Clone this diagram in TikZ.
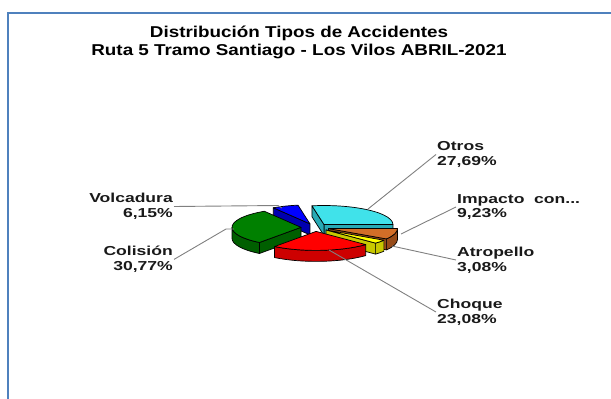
\documentclass[tikz,border=0pt]{standalone}
\usepackage{fontspec}
\newfontfamily\titlefont[FakeStretch=1.2]{Liberation Sans}
\newfontfamily\chartfont[FakeStretch=1.35]{Liberation Sans}
\usepackage{tikz}
\usetikzlibrary{positioning, calc}

\definecolor{framecol}{RGB}{79,129,189}
\definecolor{leadcol}{RGB}{128,128,128}
\definecolor{cyanTop}{RGB}{64,226,234}
\definecolor{cyanSide}{RGB}{40,170,180}
\definecolor{brownTop}{RGB}{210,110,40}
\definecolor{brownSide}{RGB}{150,75,25}
\definecolor{yellowTop}{RGB}{255,255,0}
\definecolor{yellowSide}{RGB}{200,200,0}
\definecolor{redTop}{RGB}{255,0,0}
\definecolor{redSide}{RGB}{205,0,0}
\definecolor{greenTop}{RGB}{0,128,0}
\definecolor{greenSide}{RGB}{0,95,0}
\definecolor{blueTop}{RGB}{0,0,255}
\definecolor{blueSide}{RGB}{0,0,175}

\tikzset{pieedge/.style = {draw=black, line width=0.7pt, line join=round},
         leader/.style = {draw=leadcol, line width=0.9pt},
         lbl/.style = {font=\chartfont\bfseries\fontsize{13pt}{14.8pt}\selectfont, text=black!90, inner sep=1pt},
         titletext/.style = {font=\titlefont\bfseries\fontsize{15.7pt}{18pt}\selectfont, align=center, inner sep=0pt}}

% slice: start, end, front wall from, front wall to, top colour, side colour
\newcommand{\pieslice}[6]{%
  \pgfmathsetmacro{\pmid}{(#1+#2)/2}
  \pgfmathtruncatemacro{\showa}{cos(#1)>0.01}
  \pgfmathtruncatemacro{\showb}{cos(#2)<-0.01}
  \pgfmathtruncatemacro{\showw}{#4>#3}
  \begin{scope}[shift={({14*cos(\pmid)},{3.9*sin(\pmid)})}]
    \ifnum\showw=1
      \filldraw[pieedge, fill=#6] ({69*cos(#3)},{19*sin(#3)}) arc[start angle=#3, end angle=#4, x radius=69pt, y radius=19pt]
        -- ++(0,-11) arc[start angle=#4, end angle=#3, x radius=69pt, y radius=19pt] -- cycle;
    \fi
    \ifnum\showa=1
      \filldraw[pieedge, fill=#6] (0,0) -- ({69*cos(#1)},{19*sin(#1)}) -- ++(0,-11) -- (0,-11) -- cycle;
    \fi
    \ifnum\showb=1
      \filldraw[pieedge, fill=#6] (0,0) -- ({69*cos(#2)},{19*sin(#2)}) -- ++(0,-11) -- (0,-11) -- cycle;
    \fi
    \filldraw[pieedge, fill=#5] (0,0) -- ({69*cos(#1)},{19*sin(#1)})
      arc[start angle=#1, end angle=#2, x radius=69pt, y radius=19pt] -- cycle;
  \end{scope}}

\begin{document}
\begin{tikzpicture}[x=1pt, y=-1pt]
  \useasboundingbox (0,0) rectangle (611,399);
  \draw[framecol, line width=2pt] (8,402) -- (8,13) -- (614,13);

  \node[titletext] (title) at (299,42.5) {Distribución Tipos de Accidentes\\Ruta 5 Tramo Santiago - Los Vilos ABRIL-2021};

  % pie, back slices first
  \begin{scope}[shift={(315,227.5)}, x=1pt, y=1pt]
    \pieslice{100}{122.14}{0}{0}{blueTop}{blueSide}
    \pieslice{0.32}{100}{0}{0}{cyanTop}{cyanSide}
    \pieslice{122.14}{232.91}{180}{232.91}{greenTop}{greenSide}
    \pieslice{-32.91}{0.32}{-32.91}{0}{brownTop}{brownSide}
    \pieslice{-44}{-32.91}{-44}{-32.91}{yellowTop}{yellowSide}
    \pieslice{-127.09}{-44}{-127.09}{-44}{redTop}{redSide}
  \end{scope}

  % labels
  \node[lbl, align=left, anchor=west] (otros) at (436,154.5) {Otros\\27,69\%};
  \node[lbl, align=left, anchor=west] (impacto) at (456,207) {Impacto~ con...\\9,23\%};
  \node[lbl, align=left, anchor=west] (atropello) at (456,260) {Atropello\\3,08\%};
  \node[lbl, align=left, anchor=west] (choque) at (436,312) {Choque\\23,08\%};
  \node[lbl, align=right, anchor=east] (volcadura) at (174,206.5) {Volcadura\\6,15\%};
  \node[lbl, align=right, anchor=east] (colision) at (174,259.4) {Colisión\\30,77\%};

  % leader lines
  \coordinate (pOtros) at (368,209);
  \coordinate (pImpacto) at (401,234);
  \coordinate (pAtropello) at (392,246);
  \coordinate (pChoque) at (329,250);
  \coordinate (pVolcadura) at (282,208);
  \coordinate (pColision) at (234,229);
  \draw[leader] (otros.west) -- (pOtros);
  \draw[leader] (impacto.west) -- (pImpacto);
  \draw[leader] (atropello.west) -- (pAtropello);
  \draw[leader] (choque.west) -- (pChoque);
  \draw[leader] (volcadura.east) -- (278,205.5) -- (pVolcadura);
  \draw[leader] (colision.east) -- (226,229) -- (pColision);
\end{tikzpicture}
\end{document}
